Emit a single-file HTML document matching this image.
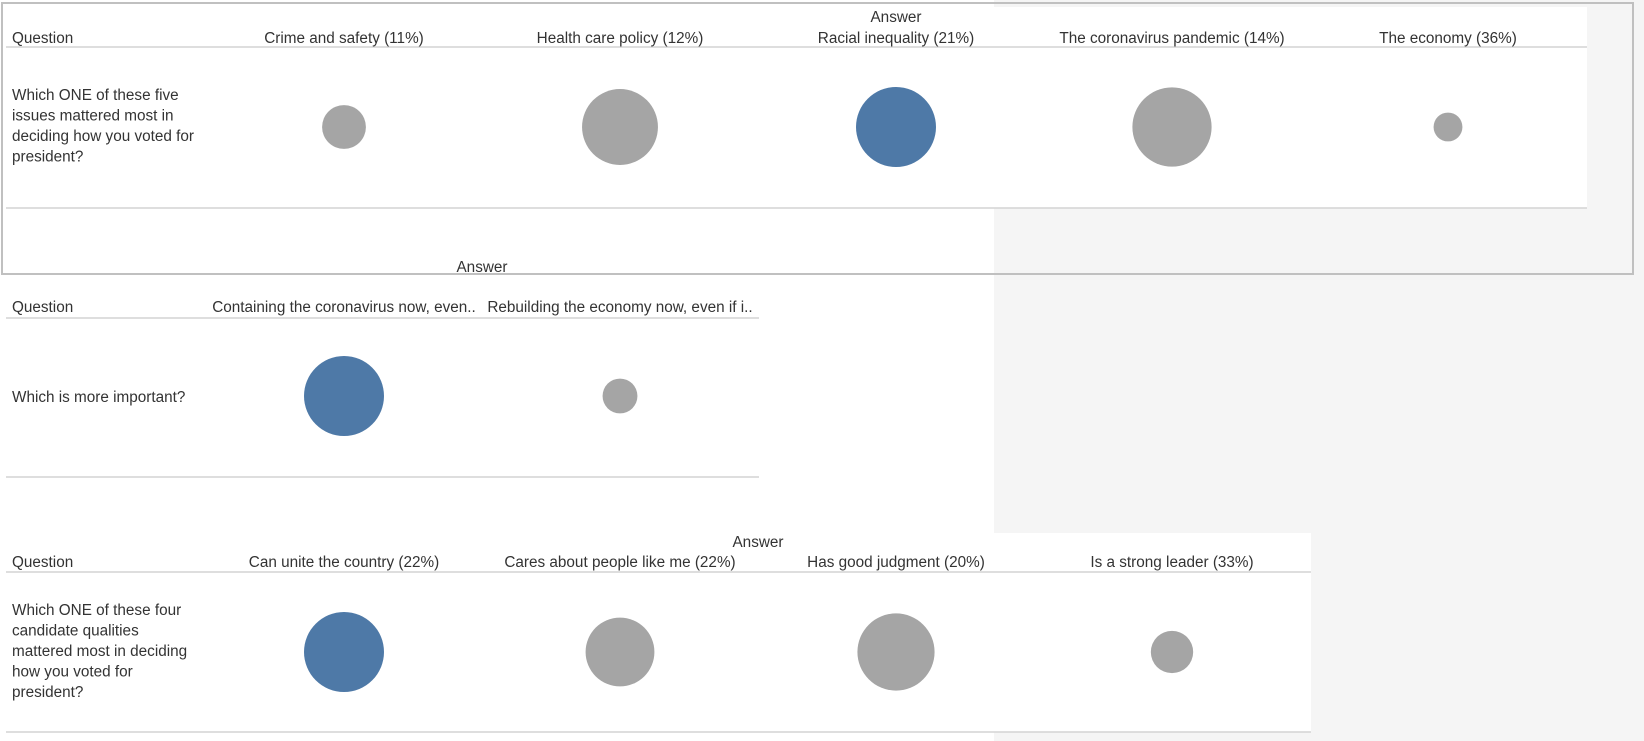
<!DOCTYPE html>
<html><head><meta charset="utf-8"><style>
html,body{margin:0;padding:0;background:#f5f5f5;}
svg{display:block;font-family:"Liberation Sans",sans-serif;}
text{fill:#333;font-size:15.3px;}
</style></head><body>
<svg id="chart" width="1644" height="741" viewBox="0 0 1644 741" xmlns="http://www.w3.org/2000/svg">
<rect x="0" y="0" width="1644" height="741" fill="#f5f5f5"/>
<rect x="0" y="0" width="994" height="741" fill="#fff"/>
<rect x="994" y="7" width="593" height="201" fill="#fff"/>
<rect x="994" y="533" width="317" height="199" fill="#fff"/>
<rect x="2" y="3" width="1631" height="271" fill="none" stroke="#c0c0c0" stroke-width="2"/>
<g id="marks"></g>
</svg>
<script>
// Panel 1
const p1Categories = ["Crime and safety (11%)","Health care policy (12%)","Racial inequality (21%)","The coronavirus pandemic (14%)","The economy (36%)"];
const p1Values = [30, 90, 100, 98, 13];
const p1Highlight = [false, false, true, false, false];
// Panel 2
const p2Categories = ["Containing the coronavirus now, even..","Rebuilding the economy now, even if i.."];
const p2Values = [100, 19];
const p2Highlight = [true, false];
// Panel 3
const p3Categories = ["Can unite the country (22%)","Cares about people like me (22%)","Has good judgment (20%)","Is a strong leader (33%)"];
const p3Values = [100, 74, 93, 28];
const p3Highlight = [true, false, false, false];

const NS = "http://www.w3.org/2000/svg";
const g = document.getElementById('marks');
const colX = i => 344 + i * 276;
const rScale = v => 40 * Math.sqrt(v / 100);

function mk(tag, attrs, txt) {
  const e = document.createElementNS(NS, tag);
  for (const k in attrs) e.setAttribute(k, attrs[k]);
  if (txt !== undefined) e.textContent = txt;
  g.appendChild(e);
  return e;
}

function panel(p, cats, vals, hi, answerX, answerY, headY, lineY, rowLineY, lineRight, cy, qLines, qY) {
  let e = mk('text', {x: answerX, y: answerY, 'text-anchor': 'middle'}, 'Answer');
  
  
  e = mk('text', {x: 12, y: headY}, 'Question');
  
  
  e = mk('line', {x1: 6, x2: lineRight, y1: lineY, y2: lineY, stroke: '#d4d4d4', 'stroke-width': 1.5});
  
  
  e = mk('line', {x1: 6, x2: lineRight, y1: rowLineY, y2: rowLineY, stroke: '#d4d4d4', 'stroke-width': 1.5});
  
  
  qLines.forEach((t, i) => {
    const q = mk('text', {x: 12, y: qY + i * 20.5}, t);
    
    
  });
  cats.forEach((c, i) => {
    const h = mk('text', {x: colX(i), y: headY, 'text-anchor': 'middle'}, c);
    
    
    const m = mk('circle', {cx: colX(i), cy: cy, r: rScale(vals[i]), fill: hi[i] ? '#4e79a7' : '#a5a5a5'});
    
    
  });
}

panel('p1', p1Categories, p1Values, p1Highlight, 896, 22, 43, 47, 208, 1587, 127,
  ["Which ONE of these five","issues mattered most in","deciding how you voted for","president?"], 100);
panel('p2', p2Categories, p2Values, p2Highlight, 482, 272, 312, 318, 477, 759, 396,
  ["Which is more important?"], 402);
panel('p3', p3Categories, p3Values, p3Highlight, 758, 547, 567, 572, 732, 1311, 652,
  ["Which ONE of these four","candidate qualities","mattered most in deciding","how you voted for","president?"], 615);
</script>
</body></html>
